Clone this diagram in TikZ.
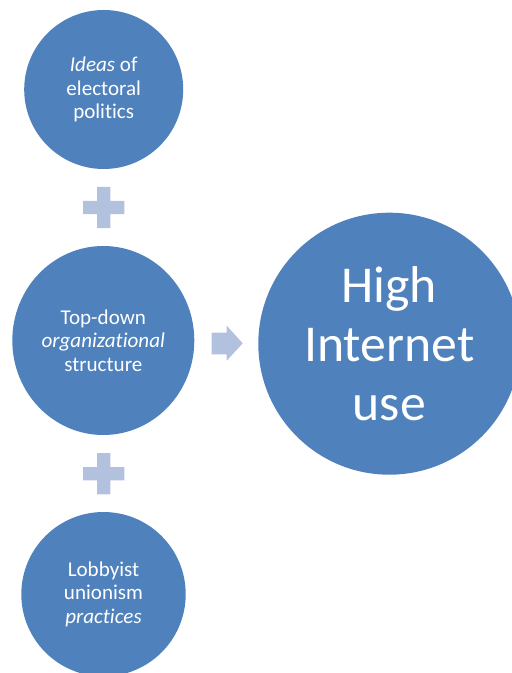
\documentclass[tikz,border=0pt]{standalone}
\usepackage{fontspec}
\setmainfont{Carlito}[Ligatures=NoCommon]
\usetikzlibrary{shapes.geometric}
\definecolor{circblue}{HTML}{4F81BD}
\definecolor{signlight}{HTML}{B2C1DD}

\tikzset{every picture/.style={line width=0.75pt}}
\tikzset{
  bubble/.style={circle, fill=circblue, draw=none, text=white, align=center, inner sep=0pt},
  smalltext/.style={font=\fontsize{15.8}{17.6}\selectfont},
  bigtext/.style={font=\fontsize{38.8}{44}\selectfont},
  sign/.style={fill=signlight, draw=none}
}

\begin{document}
\begin{tikzpicture}[x=0.75pt,y=0.75pt,yscale=-1,xscale=1]
\useasboundingbox (0,0) rectangle (511,673);

% Circle: ideas
\node [bubble, smalltext, minimum size=119.25pt] (ideas) at (103.7,89.5) {\textit{Ideas} of\\electoral\\politics};
% Ellipse: structure
\node [bubble, ellipse, smalltext, minimum width=136.5pt, minimum height=141.75pt] (structure) at (103.3,340.5) {Top-down\\\textit{organizational}\\structure};
% Circle: practices
\node [bubble, smalltext, minimum size=123.3pt] (practices) at (103.5,594.2) {Lobbyist\\unionism\\\textit{practices}};
% Circle: internet use
\node [bubble, bigtext, minimum size=196.5pt] (internet) at (389.3,343.7) {High\\Internet\\use};

% Plus signs
\foreach \y in {207.5,473.7}{
\fill [sign] (97,\y-20.7) -- (110.3,\y-20.7) -- (110.3,\y-6.7) -- (124.3,\y-6.7) -- (124.3,\y+6.7) -- (110.3,\y+6.7) -- (110.3,\y+20.7) -- (97,\y+20.7) -- (97,\y+6.7) -- (83,\y+6.7) -- (83,\y-6.7) -- (97,\y-6.7) -- cycle ;
}

% Arrow
\fill [sign] (211.7,332.7) -- (226.7,332.7) -- (226.7,325.7) -- (242.7,343.3) -- (226.7,360.7) -- (226.7,354.3) -- (211.7,354.3) -- cycle ;

\end{tikzpicture}
\end{document}
